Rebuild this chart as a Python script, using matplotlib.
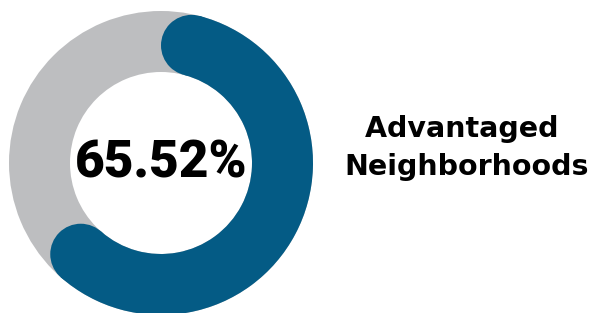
import numpy as np
import matplotlib
matplotlib.use('Agg')
import matplotlib.pyplot as plt
from matplotlib.patches import Wedge, Circle

# data
share = 65.52
value_label = '65.52%'
caption = 'Advantaged \nNeighborhoods'

blue = '#045b85'
grey = '#bdbec0'

W, H = 593, 313
fig = plt.figure(figsize=(W / 100, H / 100), dpi=100)
ax = fig.add_axes([0, 0, 1, 1])
ax.set_xlim(0, W)
ax.set_ylim(0, H)
ax.set_aspect('equal')
ax.axis('off')

cx, cy = 161, H - 163  # ring centre
r_out, r_in = 152, 91
width = r_out - r_in
r_mid = (r_out + r_in) / 2

# grey background ring
ax.add_patch(Wedge((cx, cy), r_out, 0, 360, width=width, color=grey, lw=0))

# blue arc, clockwise from top, round ends kept inside the share
cap = np.degrees(np.arcsin((width / 2) / r_mid))
a_start = cap
a_end = share / 100 * 360 - cap
t1, t2 = 90 - a_end, 90 - a_start
ax.add_patch(Wedge((cx, cy), r_out, t1, t2, width=width, color=blue, lw=0))
for a in (t1, t2):
    px = cx + r_mid * np.cos(np.radians(a))
    py = cy + r_mid * np.sin(np.radians(a))
    ax.add_patch(Circle((px, py), width / 2, color=blue, lw=0))

ax.text(cx, cy, value_label, ha='center', va='center', fontsize=37,
        fontweight='black', family='Roboto', color='black')
ax.text(467, H - 148, caption, ha='center', va='center', fontsize=20.5,
        fontweight='bold', family='DejaVu Sans', color='black', linespacing=1.45)

fig.savefig('out.png', dpi=100)
